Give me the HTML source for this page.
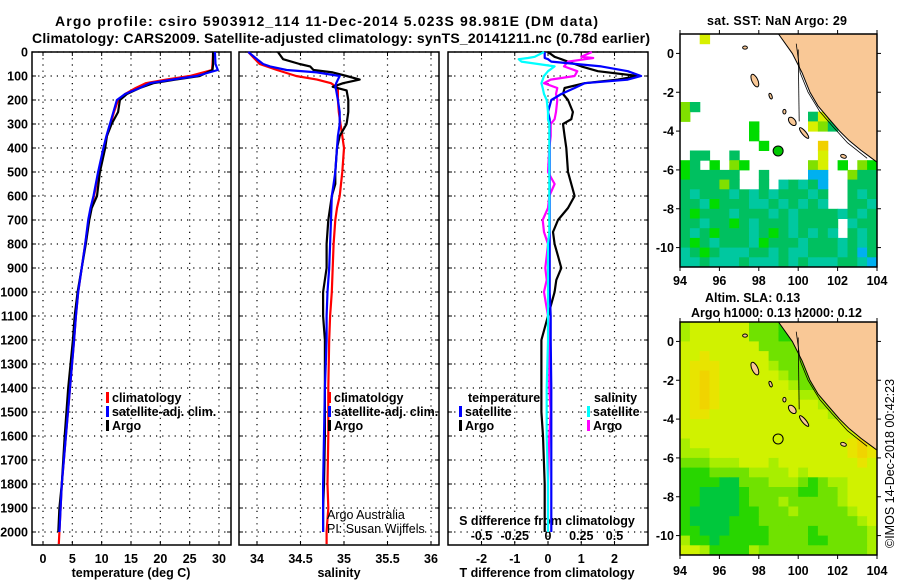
<!DOCTYPE html>
<html><head><meta charset="utf-8"><style>
html,body{margin:0;padding:0;background:#fff;}
svg{display:block;font-family:"Liberation Sans",Arial,sans-serif;}
.b{font-weight:bold;font-size:12.5px;}
.t{font-weight:bold;font-size:14px;}
.n{font-size:12.5px;}
</style></head><body>
<svg id="c" width="900" height="580" viewBox="0 0 900 580" xmlns="http://www.w3.org/2000/svg">
<text class="t" x="55" y="26" textLength="543">Argo profile: csiro 5903912_114 11-Dec-2014 5.023S 98.981E (DM data)</text>
<text class="t" x="32" y="43" textLength="618">Climatology: CARS2009. Satellite-adjusted climatology: synTS_20141211.nc (0.78d earlier)</text>
<text class="b" x="707" y="25" textLength="140">sat. SST: NaN Argo: 29</text>
<text class="b" x="705" y="302">Altim. SLA: 0.13</text>
<text class="b" x="691" y="317">Argo h1000: 0.13 h2000: 0.12</text>
<text class="n" transform="translate(894,548) rotate(-90)">©IMOS 14-Dec-2018 00:42:23</text>
<g id="g"></g>
</svg>
<script>
// ---------- data ----------
const tDepth = [0,50,75,100,115,130,150,175,200,250,300,350,400,500,600,650,700,800,900,1000,1100,1200,1400,1600,1800,1900,2000];
const tArgo  = [29.0,29.0,28.9,26.7,22.5,18.8,16.5,14.3,13.1,12.8,11.7,10.9,10.6,9.7,9.2,8.3,7.9,7.3,6.6,5.9,5.4,5.1,4.3,3.7,3.2,2.8,2.6];
const tSat   = [29.3,29.4,29.8,26.2,22.0,18.2,16.5,14.0,12.6,12.0,11.4,10.8,10.3,9.4,8.6,8.1,7.7,7.2,6.6,6.0,5.6,5.3,4.6,3.9,3.2,3.0,2.8];
const cDepth = [0,50,75,100,115,130,150,175,200,250,300,350,400,500,600,650,700,800,900,1000,1100,1200,1400,1600,1800,1900,2000,2050];
const tClim  = [29.0,28.9,28.8,25.0,21.0,17.5,15.8,14.0,12.8,12.1,11.5,10.9,10.4,9.5,8.7,8.2,7.8,7.2,6.6,6.0,5.6,5.3,4.6,3.9,3.2,3.0,2.8,2.7];
const sDepth = [0,30,50,60,75,85,100,115,130,145,160,200,250,300,350,400,500,550,600,700,800,900,1000,1100,1200,1400,1600,1800,1900,2000];
const sArgo  = [34.24,34.30,34.49,34.61,34.65,34.87,35.03,35.18,34.99,34.87,35.03,35.05,35.05,35.03,34.95,34.92,34.90,34.90,34.86,34.82,34.80,34.80,34.76,34.76,34.78,34.78,34.78,34.77,34.76,34.76];
const sSat   = [33.90,34.00,34.07,34.15,34.34,34.69,34.95,34.93,34.91,34.90,34.91,34.93,34.95,34.95,34.93,34.92,34.90,34.88,34.86,34.85,34.84,34.83,34.81,34.80,34.80,34.78,34.77,34.76,34.76,34.76];
const sClim  = [33.90,34.03,34.23,34.45,34.69,34.85,34.93,34.93,34.93,34.94,34.96,34.98,35.00,34.98,34.95,34.92,34.90,34.88,34.87,34.86,34.84,34.83,34.82,34.82,34.81,34.82,34.80,34.80,34.78,34.77];
const dDepth = [0,20,25,30,40,60,80,100,115,130,150,175,200,250,280,300,350,400,500,550,600,650,700,750,800,850,900,950,1000,1100,1200,1400,1500,1600,1800,2000];
const dTSat  = [-0.1,-0.1,-0.1,0.0,0.1,1.6,2.4,2.8,2.4,1.1,0.8,0.4,0.1,0.0,0.05,0.05,0.05,0.05,0.05,0.05,0.05,0.05,0.05,0.05,0.05,0.05,0.05,0.05,0.05,0.08,0.08,0.1,0.1,0.1,0.1,0.1];
const dTArgo = [0.0,0.2,0.3,0.4,0.6,1.0,1.5,2.7,2.1,1.1,0.5,0.45,0.6,0.75,0.7,0.45,0.5,0.55,0.6,0.7,0.8,0.6,0.3,0.15,0.2,0.3,0.4,0.25,0.2,0.0,-0.2,-0.2,-0.2,-0.15,-0.1,-0.1];
const dSSat  = [-0.03,-0.1,-0.15,-0.22,-0.2,0.05,0.0,-0.03,-0.04,-0.05,-0.04,-0.03,-0.01,0.0,0.0,0.01,0.01,0.01,0.01,0.01,0.01,0.01,0.01,0.01,0.0,0.0,0.0,0.0,0.0,0.0,0.0,-0.01,-0.01,-0.01,0.0,0.0];
const dSArgo = [0.33,0.25,0.34,0.28,0.15,0.12,0.22,0.2,0.02,-0.03,0.07,0.06,0.07,0.06,0.05,0.02,0.02,0.01,0.0,0.05,0.01,0.0,-0.04,-0.03,0.0,-0.01,-0.02,-0.01,-0.03,0.0,0.01,0.01,0.02,0.01,0.0,0.0];
const depthTicks = [0,100,200,300,400,500,600,700,800,900,1000,1100,1200,1300,1400,1500,1600,1700,1800,1900,2000];
const tempTicks = [0,5,10,15,20,25,30];
const salTicks = [34,34.5,35,35.5,36];
const salTickLabels = ["34","34.5","35","35.5","36"];
const dtTicks = [-2,-1,0,1,2];
const dsTicks = [-0.5,-0.25,0,0.25,0.5];
const latTicks = [0,-2,-4,-6,-8,-10];
const lonTicks = [94,96,98,100,102,104];
const argoLon = 98.981, argoLat = -5.023;
const sstRows = [
"..y.................",
"....................",
"...................y",
"....................",
"....................",
"....................",
"....................",
"lg..................",
"l............gyl....",
".......G.....ylg....",
".......G............",
"........G.....o.....",
".gg..g........y.....",
"Gg.G.lG......ly.G.lG",
"Gggggg..g....bb..lgg",
"gggglg..g.tgtgb..ggg",
"gtgggtgtgtgggtg..gtg",
"ggtGgggttgtgtgt..ggt",
"gGgggtgggtgtggggtgtg",
"ggtggGgtgggtgggg.tgg",
"gtgGgggtgGgtgtgt.gtg",
"gGgtgggtGgggtgggtgtg",
"tgGgtttggtgttgggtgbg",
"ttgtttgtttgtgtttggtb"];
const slaRows = [
"lYYYYYYmmmGGmmmmmmGG",
"lYYYYYYmmmGGmmmmmmGG",
"YYYYYYYYmmmmmmmmmmmm",
"YYoYYYYYYmmmmmmmmmmm",
"YoooYYYYYlmmmmmmmmmm",
"YoOoYYYYYYlmmmmmmmmm",
"YoOoYYYYYYYlmmmmmmmm",
"YoOoYYYYYYYYlllmmmmm",
"YoOoYYYYYYYYYYllmmmm",
"YooYYYYYYYYYYYYllmmm",
"YYYYYYYYYYYYYYYYYYYY",
"YYYYYYYYYYYYYYYYYYoY",
"lYYYYYYYYYYYYYYYYoOo",
"lllYYYYYYYYYYYYYYoOo",
"mmmlllYYYlYYYYYYYYoY",
"GGGmmmmllllYlYYYYYYY",
"GGGGDDmmmlllmGmllYYY",
"GGDDDDGmmmmmGGmmlYYY",
"GGDDDDGmmmlmmmmmlYYY",
"GDDDDDGGmmmlmmmmmlYY",
"GDDDDGGGmmmmmmmmmmlY",
"GGDDDGGGGmmmmGmmmmml",
"lGGDGGGGGmmmmGGmmmml",
"YYlGGGGlmmmmmmmmmmml"];
const coastLon = [99.0,99.7,100.2,100.6,101.0,101.5,102.1,102.6,103.2,103.6,104.0];
const coastLat = [1.0,0.0,-1.0,-2.0,-2.7,-3.3,-4.0,-4.5,-5.0,-5.3,-5.6];

// ---------- drawing ----------
const NS="http://www.w3.org/2000/svg";
const root=document.getElementById('g');
function el(tag,attrs,parent){const e=document.createElementNS(NS,tag);for(const k in attrs)e.setAttribute(k,attrs[k]);(parent||root).appendChild(e);return e;}
function txt(s,x,y,cls,anchor,parent){const e=el('text',{x:x,y:y,class:cls,'text-anchor':anchor||'start'},parent);e.textContent=s;return e;}
const yTop=52, yPer=0.24;
function yD(d){return yTop+d*yPer;}
function mkX(x0,x1,v0,v1){return v=>x0+(v-v0)/(v1-v0)*(x1-x0);}
const PB=545;
const panels=[
 {name:'temperature',x0:32,x1:231,sx:mkX(43,219,0,30)},
 {name:'salinity',x0:239,x1:439,sx:mkX(257,431,34,36)},
 {name:'difference',x0:448,x1:648,sx:mkX(481.5,614.5,-2,2)}
];
panels.forEach((p,i)=>{
  const g=el('g',{});
  
  
  const ticks=i===0?tempTicks:(i===1?salTicks:dtTicks);
  ticks.forEach(t=>{const x=p.sx(t);
    const l=el('line',{x1:x,x2:x,y1:yTop,y2:PB,stroke:'#000','stroke-width':1.2,'stroke-dasharray':'1.2,5'},g);
    
    
    el('line',{x1:x,x2:x,y1:PB,y2:PB-4,stroke:'#000'},g);
    el('line',{x1:x,x2:x,y1:yTop,y2:yTop+4,stroke:'#000'},g);
  });
  depthTicks.forEach(d=>{const y=yD(d);
    const l=el('line',{x1:p.x0,x2:p.x1,y1:y,y2:y,stroke:'#000','stroke-width':1.2,'stroke-dasharray':'1.2,5'},g);
    
    
    el('line',{x1:p.x0,x2:p.x0+4,y1:y,y2:y,stroke:'#000'},g);
    el('line',{x1:p.x1,x2:p.x1-4,y1:y,y2:y,stroke:'#000'},g);
  });
  const fr=el('rect',{x:p.x0,y:yTop,width:p.x1-p.x0,height:PB-yTop,fill:'none',stroke:'#000','stroke-width':1.5},g);
  
  
});
depthTicks.forEach(d=>{const t=txt(String(d),28,yD(d)+4.5,'b','end');
  
  });
tempTicks.forEach(v=>{const t=txt(String(v),panels[0].sx(v),563,'b','middle');
  
  });
salTicks.forEach((v,i)=>{const t=txt(salTickLabels[i],panels[1].sx(v),563,'b','middle');
  
  });
dtTicks.forEach(v=>{const t=txt(String(v),panels[2].sx(v),563,'b','middle');
  
  });
dsTicks.forEach((v,i)=>{const t=txt(String(v),panels[2].sx(dtTicks[i]),540,'b','middle');
  
  });
[['temperature (deg C)',131,'temperature-axis-title'],['salinity',339,'salinity-axis-title'],['T difference from climatology',547,'t-difference-axis-title']].forEach(a=>{
  const t=txt(a[0],a[1],577,'b','middle');
  
  });
{const t=txt('S difference from climatology',547,525,'b','middle');
 
 }
function line(px,dep,vals,color,name){
  const pts=dep.map((d,i)=>px.sx(vals[i]).toFixed(1)+','+yD(d).toFixed(1)).join(' ');
  const e=el('polyline',{points:pts,fill:'none',stroke:color,'stroke-width':2.2,'stroke-linejoin':'round'});
  
  
}
line(panels[0],cDepth,tClim,'#f00','temperature-climatology-line');
line(panels[0],tDepth,tArgo,'#000','temperature-argo-line');
line(panels[0],tDepth,tSat,'#00f','temperature-satellite-line');
line(panels[1],cDepth,sClim,'#f00','salinity-climatology-line');
line(panels[1],sDepth,sArgo,'#000','salinity-argo-line');
line(panels[1],sDepth,sSat,'#00f','salinity-satellite-line');
line(panels[2],dDepth,dTArgo,'#000','t-diff-argo-line');
line(panels[2],dDepth,dSArgo.map(v=>v*4),'#f0f','s-diff-argo-line');
line(panels[2],dDepth,dTSat,'#00f','t-diff-satellite-line');
line(panels[2],dDepth,dSSat.map(v=>v*4),'#0ff','s-diff-satellite-line');
function leg(x,y,color,label,name){
  el('rect',{x:x,y:y-10,width:3,height:11,fill:color});
  const t=txt(label,x+6,y,'b','start');
  
  
}
leg(106,402,'#f00','climatology','legend-climatology');
leg(106,416,'#00f','satellite-adj. clim.','legend-satellite-adj');
leg(106,430,'#000','Argo','legend-argo');
leg(328,402,'#f00','climatology','legend-climatology-2');
leg(328,416,'#00f','satellite-adj. clim.','legend-satellite-adj-2');
leg(328,430,'#000','Argo','legend-argo-2');
{const t=txt('temperature',468,402,'b');}
{const t=txt('salinity',594,402,'b');}
leg(459,416,'#00f','satellite','legend-t-satellite');
leg(459,430,'#000','Argo','legend-t-argo');
leg(587,416,'#0ff','satellite','legend-s-satellite');
leg(587,430,'#f0f','Argo','legend-s-argo');
{const t=txt('Argo Australia',327,519,'n');}
{const t=txt('PI: Susan Wijffels',327,533,'n');}

const sstCol={g:'#00c060',t:'#00c8a0',G:'#00dc00',l:'#80e000',y:'#d8f000',o:'#f0d000',b:'#00b0f0'};
const slaCol={Y:'#d0f200',o:'#e8e400',O:'#f0d400',l:'#a8ee00',m:'#70e200',G:'#28d600',D:'#00c83c'};
function drawMap(top,rows,cols,name,lonLabelY){
  const mx0=680,mx1=877;
  const lx=lon=>mx0+(lon-94)/10*(mx1-mx0);
  const ly=lat=>top+(1-lat)/12*233;
  const g=el('g',{});
  
  
  el('rect',{x:mx0,y:top,width:mx1-mx0,height:233,fill:'#fff'},g);
  rows.forEach((r,ri)=>{for(let ci=0;ci<r.length;ci++){const c=cols[r[ci]];if(!c)continue;
    const x=lx(94+ci*0.5),y=ly(1-ri*0.5);
    const rc=el('rect',{x:x.toFixed(1),y:y.toFixed(1),width:(lx(94.5)-lx(94)+0.5).toFixed(1),height:(ly(0.5)-ly(1)+0.5).toFixed(1),fill:c},g);
    
    }});
  let pts=coastLon.map((lo,i)=>lx(lo).toFixed(1)+','+ly(coastLat[i]).toFixed(1));
  pts.push(lx(104)+','+ly(1));
  const land=el('polygon',{points:pts.join(' '),fill:'#f9c896',stroke:'#000','stroke-width':1},g);
  
  
  const sh=el('polyline',{points:[[99.9,0.5],[100.1,-1],[100.5,-2],[101.1,-3],[101.7,-3.7],[102.5,-4.6],[103.5,-5.4]].map(p=>lx(p[0])+','+ly(p[1])).join(' '),fill:'none',stroke:'#000','stroke-width':0.8},g);
  
  
  el('line',{x1:lx(100.0),y1:ly(0.2),x2:lx(100.05),y2:ly(-3.5),stroke:'#000','stroke-width':0.8},g);
  [[97.3,0.3,0.12,0.08,0],[97.8,-1.4,0.15,0.35,-25],[98.6,-2.2,0.07,0.15,-20],[99.3,-3.0,0.08,0.12,0],[99.7,-3.5,0.15,0.25,-40],[100.3,-4.1,0.1,0.35,-40],[102.3,-5.3,0.15,0.09,20]].forEach(s=>{
    const e=el('ellipse',{cx:lx(s[0]),cy:ly(s[1]),rx:s[2]*19.7,ry:s[3]*19.4,fill:'#f9c896',stroke:'#000','stroke-width':1,transform:`rotate(${s[4]} ${lx(s[0])} ${ly(s[1])})`},g);
    
    });
  const ar=el('circle',{cx:lx(argoLon),cy:ly(argoLat),r:5,fill:name==='sst-map'?'#00c800':'none',stroke:'#000','stroke-width':1},g);
  
  
  const fr=el('rect',{x:mx0,y:top,width:mx1-mx0,height:233,fill:'none',stroke:'#000','stroke-width':1.5},g);
  
  
  latTicks.forEach(v=>{const y=ly(v);
    el('line',{x1:mx0-4,x2:mx0,y1:y,y2:y,stroke:'#000'},g);
    el('line',{x1:mx1,x2:mx1+4,y1:y,y2:y,stroke:'#000'},g);
    const t=txt(String(v),674,y+4.5,'b','end',g);
    
    });
  lonTicks.forEach(v=>{const x=lx(v);
    el('line',{x1:x,x2:x,y1:top+233,y2:top+237,stroke:'#000'},g);
    el('line',{x1:x,x2:x,y1:top,y2:top-4,stroke:'#000'},g);
    const t=txt(String(v),x,lonLabelY,'b','middle',g);
    
    });
}
drawMap(34,sstRows,sstCol,'sst-map',285);
drawMap(322,slaRows,slaCol,'sla-map',575);
</script>
</body></html>
